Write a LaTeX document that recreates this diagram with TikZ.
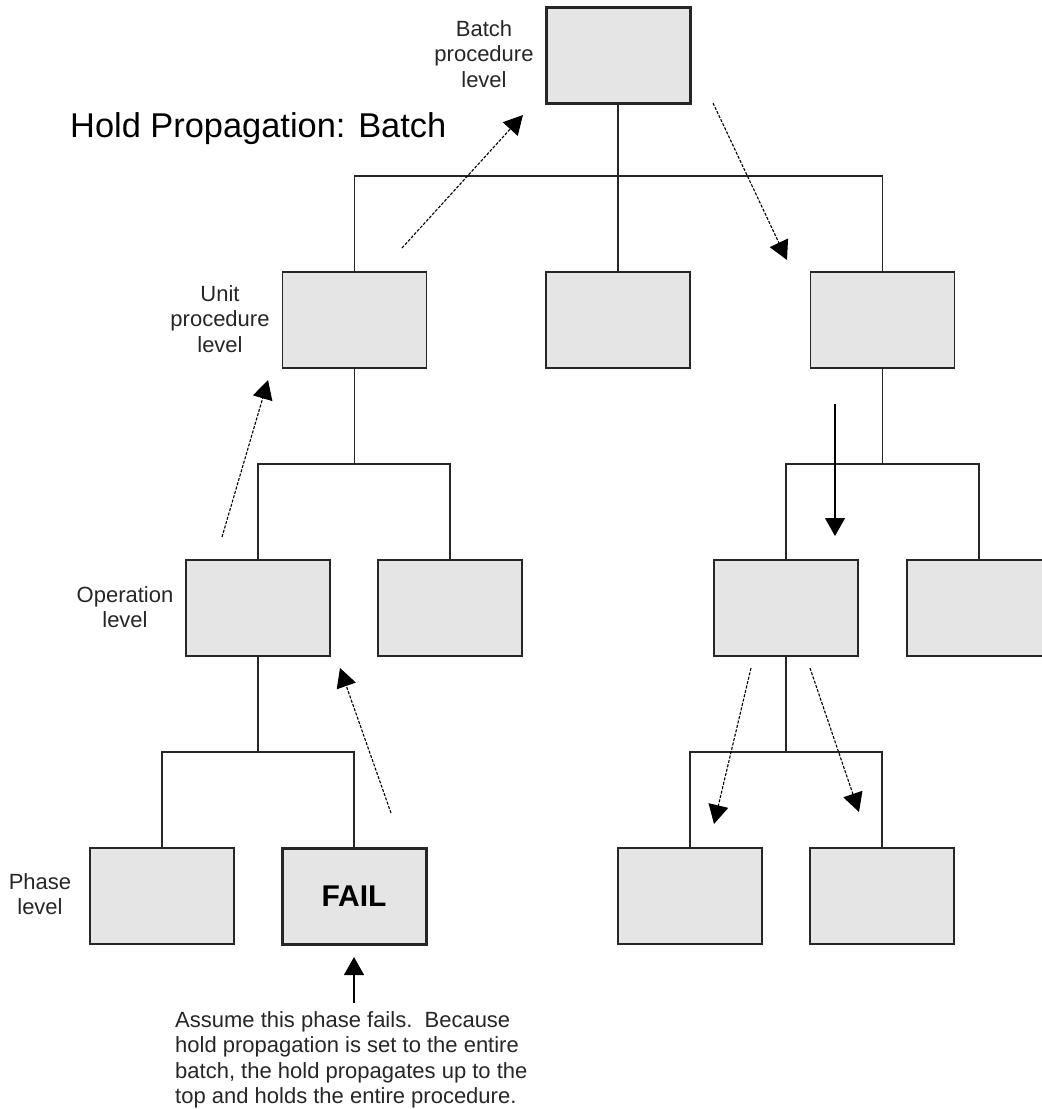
\documentclass[tikz,border=0pt]{standalone}
\usepackage{fontspec}
\setmainfont{Liberation Sans}
\usetikzlibrary{arrows.meta}
\tikzset{
    box/.style={draw=black!85, fill=black!10, line width=1.4pt, minimum width=144pt, minimum height=96pt, inner sep=0pt},
    failbox/.style={box, line width=3pt, font=\fontsize{30}{30}\selectfont\bfseries},
    lvl/.style={align=center, inner sep=0pt, text=black!85, font=\fontsize{22}{25.5}\selectfont},
    hold/.style={line width=1.1pt, dash pattern=on 3pt off 1.5pt, -{Triangle[width=20pt,length=19pt]}},
    holdsolid/.style={line width=1.1pt, -{Triangle[width=20pt,length=18pt]}},
    tree/.style={line width=1.1pt, draw=black!85}
}
\begin{document}
\begin{tikzpicture}[x=1pt, y=-1pt]
        \useasboundingbox (0,0) rectangle (1042,1109);
        \clip (0,0) rectangle (1042,1109);
        % boxes
        \node[box, line width=3pt] (batch) at (618,55) {};
        \node[box] (unitA) at (354.5,320) {};
        \node[box] (unitB) at (618,320) {};
        \node[box] (unitC) at (882.5,320) {};
        \node[box] (opA) at (258,608) {};
        \node[box] (opB) at (450,608) {};
        \node[box] (opC) at (786,608) {};
        \node[box] (opD) at (979,608) {};
        \node[box] (phA) at (162,896) {};
        \node[failbox] (phB) at (354,896) {FAIL};
        \node[box] (phC) at (690,896) {};
        \node[box] (phD) at (882,896) {};

        % tree lines
        \coordinate (busA) at (618,176);
        \coordinate (busB) at (354.5,464);
        \coordinate (busC) at (882.5,464);
        \coordinate (busD) at (258,752);
        \coordinate (busE) at (786,752);
        \draw[tree] (batch.south) -- (busA) -- (unitB.north);
        \draw[tree] (unitA.north) |- (busA) -| (unitC.north);
        \foreach \up/\bus/\kidA/\kidB in {unitA/busB/opA/opB, unitC/busC/opC/opD, opA/busD/phA/phB, opC/busE/phC/phD}
            \draw[tree] (\up.south) -- (\bus) (\kidA.north) |- (\bus) -| (\kidB.north);

        % labels
        \node[anchor=base west, inner sep=0pt, font=\fontsize{34.4}{34}\selectfont] (title) at (70,137) {Hold Propagation: Batch};
        \node[lvl] (lblBatch) at (484,54) {Batch\\procedure\\level};
        \node[lvl] (lblUnit) at (220,319) {Unit\\procedure\\level};
        \node[lvl] (lblOp) at (125,607) {Operation\\level};
        \node[lvl] (lblPh) at (40,894) {Phase\\level};
        \node[lvl, align=left, anchor=north west] (note) at (175,1011)
            {Assume this phase fails.\ \ Because\\hold propagation is set to the entire\\batch, the hold propagates up to the\\top and holds the entire procedure.};

        % hold arrows
        \coordinate (upA0) at (391,813);  \coordinate (upA1) at (340,668);
        \coordinate (upB0) at (222,537);  \coordinate (upB1) at (268,380);
        \coordinate (upC0) at (402,248);  \coordinate (upC1) at (523,115);
        \coordinate (dnA0) at (713,103);  \coordinate (dnA1) at (787,260);
        \coordinate (dnB0) at (751,668);  \coordinate (dnB1) at (714,824);
        \coordinate (dnC0) at (810,668);  \coordinate (dnC1) at (859,812);
        \foreach \a in {upA,upB,upC,dnA,dnB,dnC}
            \draw[hold] (\a0) -- (\a1);
        \coordinate (dnD0) at (835,404);  \coordinate (dnD1) at (835,536);
        \coordinate (failtail) at (354,1003);
        \coordinate (failtip) at (354,957);
        \draw[holdsolid] (dnD0) -- (dnD1);
        \draw[holdsolid] (failtail) -- (failtip);

    \end{tikzpicture}
\end{document}
